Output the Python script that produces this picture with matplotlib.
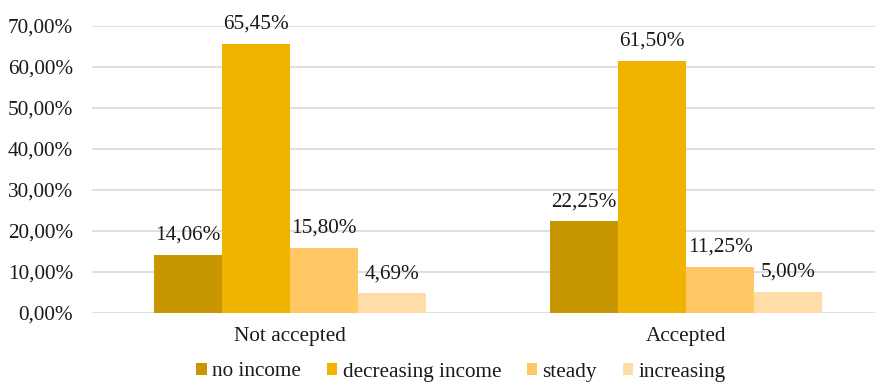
import numpy as np
import matplotlib.pyplot as plt
from matplotlib.ticker import FuncFormatter

plt.rcParams['font.family'] = ['Liberation Serif', 'DejaVu Serif']

groups = ['Not accepted', 'Accepted']
series = ['no income', 'decreasing income', 'steady', 'increasing']
values = {
    'no income': [14.06, 22.25],
    'decreasing income': [65.45, 61.50],
    'steady': [15.80, 11.25],
    'increasing': [4.69, 5.00],
}
colors = ['#C89600', '#F0B400', '#FFC864', '#FFDCA8']
fs = 15.3


def pct(v):
    return '{:.2f}%'.format(v).replace('.', ',')


fig = plt.figure(figsize=(8.75, 3.83), dpi=100)
ax = fig.add_axes([92 / 875, 70.3 / 383, 792 / 875, 287 / 383])

x = np.arange(len(groups))
w = 0.172
for i, name in enumerate(series):
    pos = x + (i - 1.5) * w
    bars = ax.bar(pos, values[name], width=w, color=colors[i], label=name, zorder=3)
    for b, v in zip(bars, values[name]):
        ax.annotate(pct(v), (b.get_x() + b.get_width() / 2, v),
                    xytext=(0, 7.5), textcoords='offset points',
                    ha='center', va='bottom', fontsize=fs, color='#1a1a1a')

ax.set_xlim(-0.5, 1.5)
ax.set_ylim(0, 70)
ax.set_yticks(np.arange(0, 71, 10))
ax.yaxis.set_major_formatter(FuncFormatter(lambda v, p: pct(v)))
ax.set_xticks(x)
ax.set_xticklabels(groups)
ax.tick_params(axis='both', length=0, labelsize=fs, colors='#1a1a1a')
ax.tick_params(axis='y', pad=13.5)
ax.tick_params(axis='x', pad=10)
ax.grid(axis='y', color='#D9D9D9', linewidth=1.2, zorder=0)
for s in ax.spines.values():
    s.set_visible(False)

fig.legend(loc='center', bbox_to_anchor=(461 / 875, 11 / 383), ncol=4,
           frameon=False, fontsize=fs, handlelength=0.5, handleheight=0.5,
           handletextpad=0.25, columnspacing=1.2, labelcolor='#1a1a1a',
           borderpad=0, borderaxespad=0)

fig.savefig('out.png', dpi=100)
